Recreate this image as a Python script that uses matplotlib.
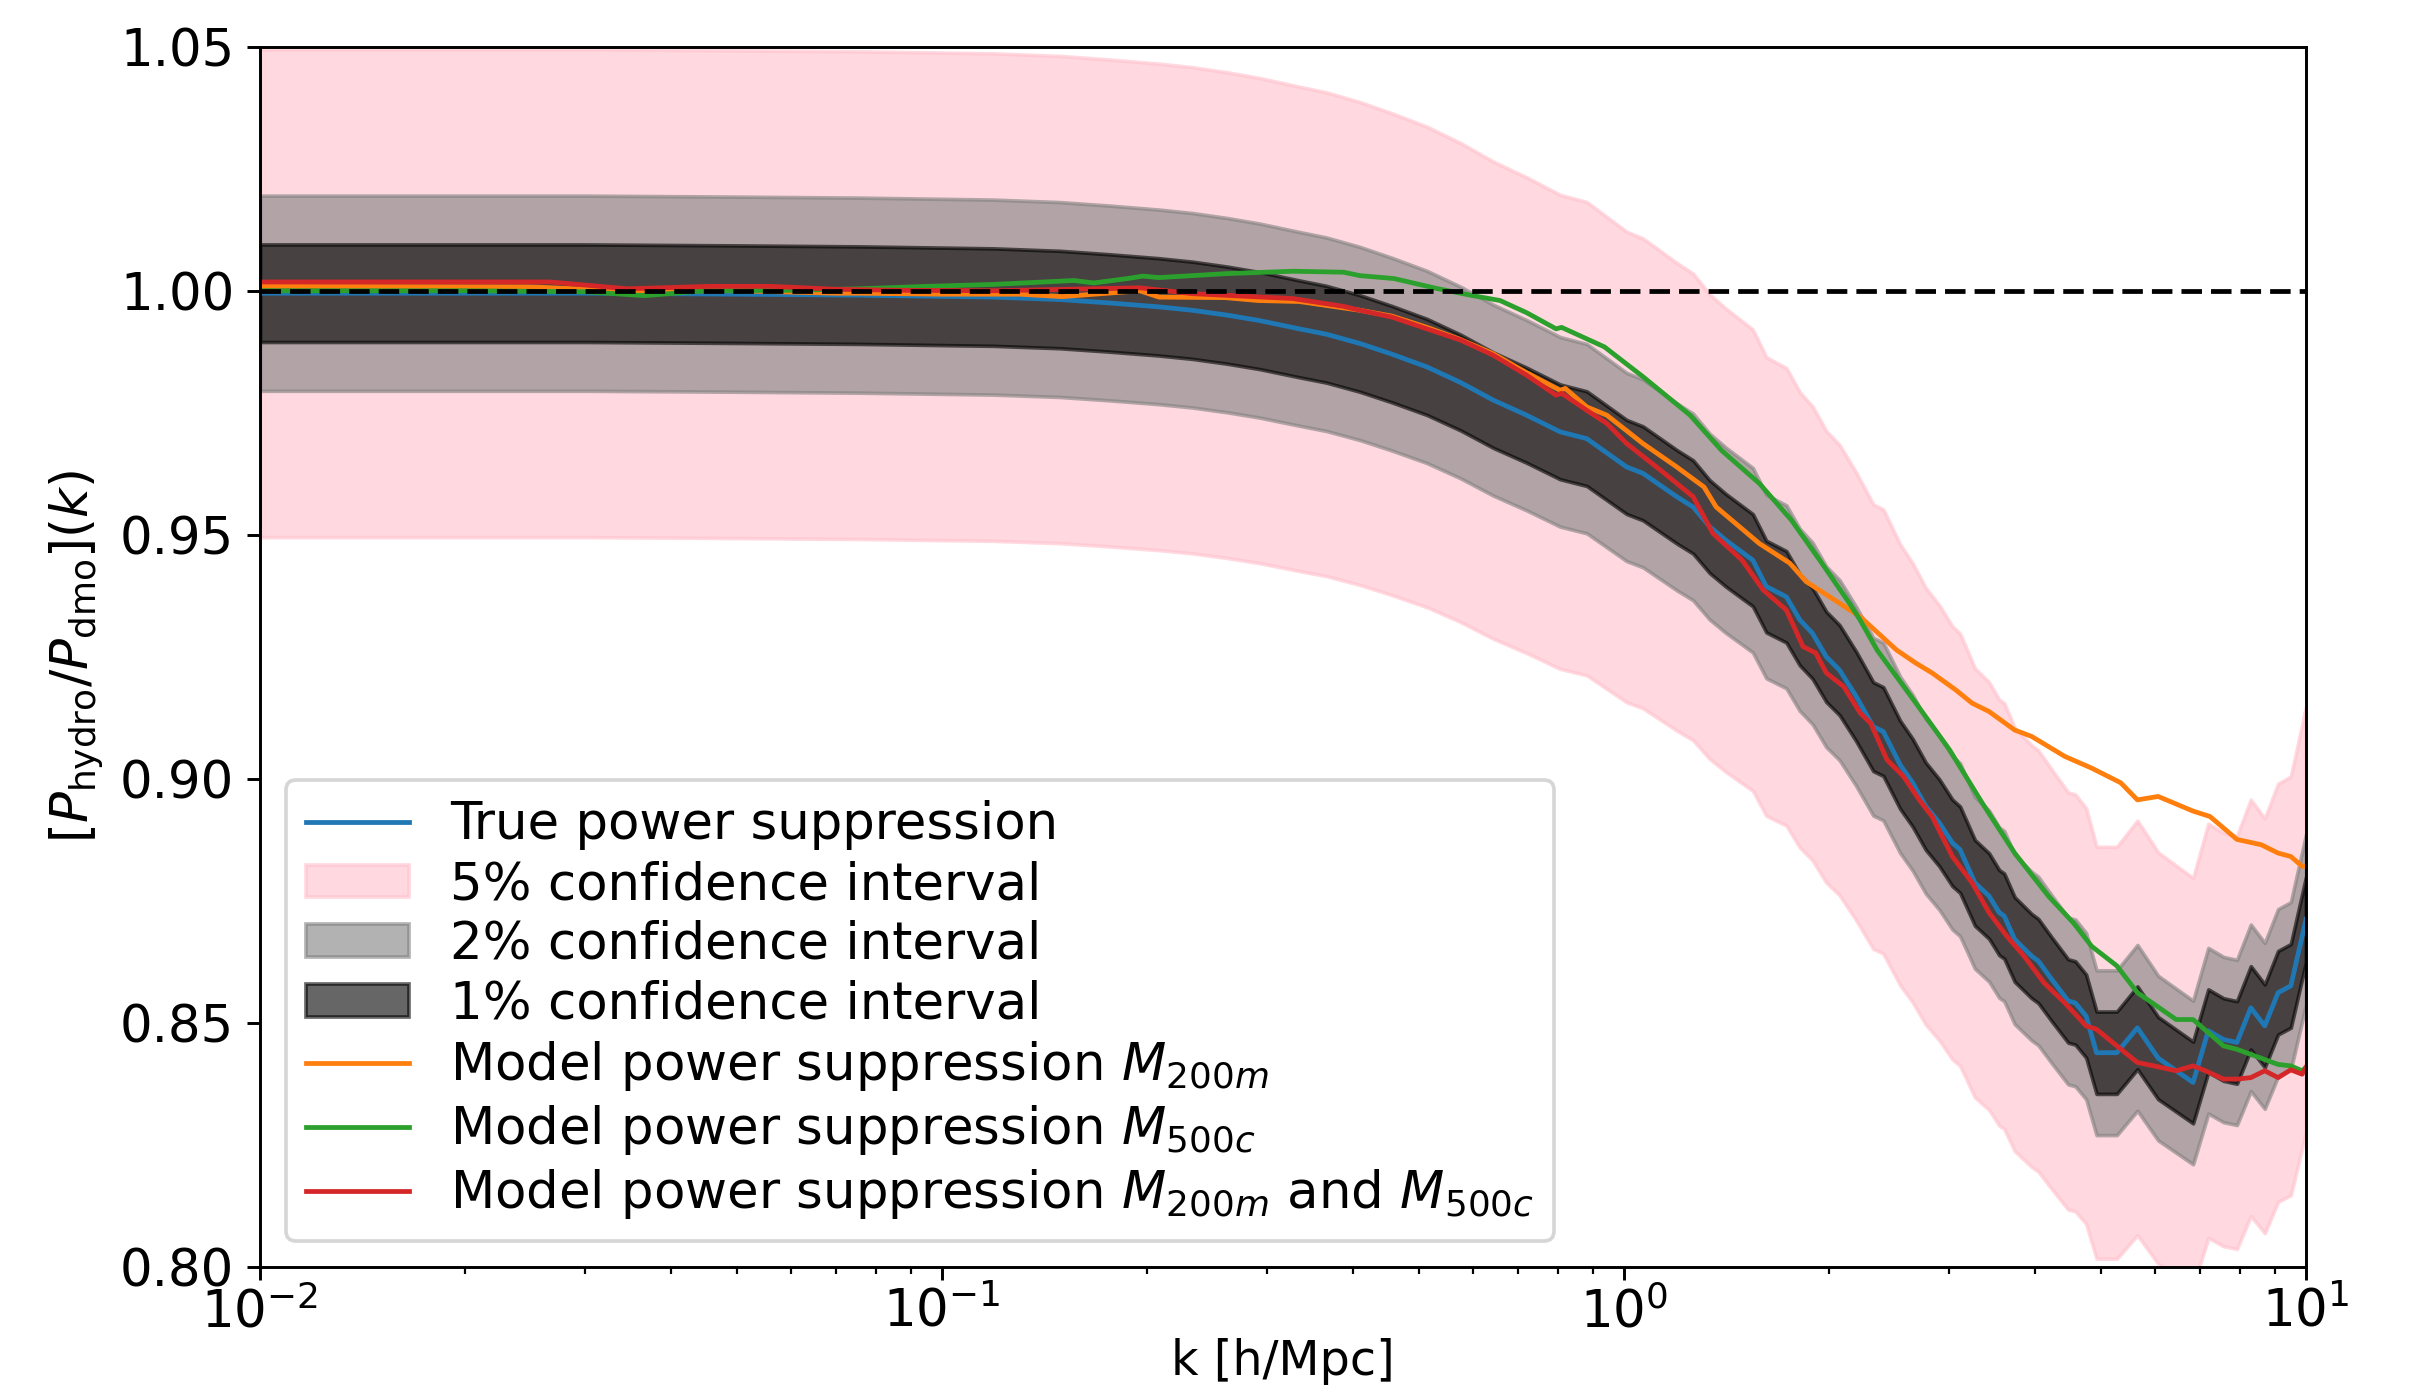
import numpy as np
import matplotlib
matplotlib.use("Agg")
import matplotlib.pyplot as plt

# ---------------- data ----------------
k_true = [0.01, 0.03, 0.05, 0.0758, 0.095, 0.119, 0.149, 0.176, 0.208, 0.233, 0.262,
          0.292, 0.334, 0.366, 0.41, 0.457, 0.514, 0.576, 0.643, 0.72, 0.806, 0.882,
          1.009, 1.066, 1.195, 1.263, 1.335, 1.41, 1.545, 1.617, 1.73, 1.81, 1.89,
          1.98, 2.07, 2.19, 2.32, 2.40, 2.54, 2.65, 2.77, 2.90, 3.03, 3.11, 3.27,
          3.43, 3.55, 3.61, 3.74, 3.96, 4.05, 4.24, 4.48, 4.59, 4.76, 4.93, 5.28,
          5.66, 6.07, 6.83, 7.19, 7.57, 7.92, 8.30, 8.70, 9.10, 9.50, 10.0]
true_supp = [0.9995, 0.9995, 0.9993, 0.9991, 0.9989, 0.9987, 0.9982, 0.9975, 0.9967,
             0.9960, 0.9950, 0.9939, 0.9922, 0.9911, 0.9892, 0.9870, 0.9844, 0.9812,
             0.9776, 0.9745, 0.9711, 0.9697, 0.9639, 0.9626, 0.9578, 0.9557, 0.9517,
             0.9489, 0.9448, 0.9394, 0.9373, 0.9326, 0.9298, 0.9250, 0.9223, 0.9169,
             0.9107, 0.9097, 0.9029, 0.8992, 0.8944, 0.8910, 0.8869, 0.8855, 0.8787,
             0.8760, 0.8726, 0.8719, 0.8671, 0.8637, 0.8627, 0.8589, 0.8545, 0.8541,
             0.8514, 0.8439, 0.8439, 0.8490, 0.8428, 0.8378, 0.8484, 0.8466, 0.8460,
             0.8531, 0.8494, 0.8562, 0.8576, 0.8712]

conf_levels = [0.05, 0.02, 0.01]
conf_labels = ["5% confidence interval", "2% confidence interval", "1% confidence interval"]
conf_colors = ["pink", "gray", "black"]

k_m200 = [0.01, 0.025, 0.03, 0.035, 0.05, 0.07, 0.0758, 0.1, 0.13, 0.15, 0.195, 0.208,
          0.26, 0.291, 0.334, 0.366, 0.41, 0.457, 0.514, 0.576, 0.643, 0.72, 0.806,
          0.82, 0.882, 0.944, 1.066, 1.195, 1.31, 1.365, 1.58, 1.75, 1.85, 2.07, 2.22,
          2.51, 2.68, 2.83, 3.06, 3.24, 3.43, 3.74, 3.96, 4.43, 4.85, 5.35, 5.66, 6.07,
          6.83, 7.23, 7.92, 8.6, 9.1, 9.5, 9.87, 10.0]
m200_supp = [1.0009, 1.0008, 1.0003, 1.0000, 1.0000, 0.9995, 0.9995, 0.9993, 0.9993,
             0.9988, 1.0000, 0.9987, 0.9986, 0.9980, 0.9978, 0.9970, 0.9960, 0.9948,
             0.9925, 0.9900, 0.9871, 0.9832, 0.9796, 0.9800, 0.9762, 0.9745, 0.9687,
             0.9639, 0.9598, 0.9557, 0.9482, 0.9442, 0.9404, 0.9360, 0.9332, 0.9264,
             0.9237, 0.9217, 0.9183, 0.9155, 0.9138, 0.9100, 0.9087, 0.9046, 0.9022,
             0.8992, 0.8957, 0.8964, 0.8934, 0.8923, 0.8876, 0.8865, 0.8848, 0.8841,
             0.8821, 0.8821]

k_m500 = [0.01, 0.02, 0.03, 0.0366, 0.045, 0.06, 0.0758, 0.0949, 0.119, 0.156, 0.167,
          0.187, 0.197, 0.208, 0.233, 0.26, 0.327, 0.388, 0.41, 0.46, 0.53, 0.6, 0.658,
          0.72, 0.795, 0.81, 0.936, 1.066, 1.25, 1.39, 1.58, 1.76, 1.95, 2.14, 2.22,
          2.35, 2.68, 3.0, 3.35, 3.74, 4.19, 4.56, 4.85, 5.28, 5.66, 6.45, 6.83, 7.57,
          7.92, 9.1, 9.5, 9.87, 10.0]
m500_supp = [1.0000, 1.0000, 0.9998, 0.9990, 1.0000, 1.0001, 1.0004, 1.0009, 1.0013,
             1.0021, 1.0016, 1.0025, 1.0030, 1.0027, 1.0031, 1.0035, 1.0040, 1.0038,
             1.0031, 1.0025, 1.0005, 0.9990, 0.9980, 0.9955, 0.9922, 0.9925, 0.9885,
             0.9824, 0.9745, 0.9673, 0.9605, 0.9530, 0.9442, 0.9360, 0.9325, 0.9264,
             0.9155, 0.9060, 0.8951, 0.8848, 0.8760, 0.8705, 0.8657, 0.8617, 0.8562,
             0.8507, 0.8507, 0.8453, 0.8446, 0.8415, 0.8412, 0.8402, 0.8409]

k_both = [0.01, 0.0266, 0.0346, 0.0456, 0.056, 0.07, 0.0865, 0.12, 0.195, 0.233, 0.327,
          0.388, 0.41, 0.457, 0.514, 0.576, 0.643, 0.72, 0.795, 0.81, 0.882, 0.944,
          1.009, 1.13, 1.263, 1.35, 1.49, 1.6, 1.73, 1.83, 1.91, 1.98, 2.1, 2.22, 2.3,
          2.43, 2.57, 2.71, 2.83, 3.03, 3.24, 3.43, 3.64, 3.86, 4.13, 4.43, 4.76, 4.93,
          5.28, 5.66, 5.98, 6.45, 6.83, 7.12, 7.57, 7.92, 8.3, 8.7, 9.1, 9.5, 9.87, 10.0]
both_supp = [1.0018, 1.0018, 1.0004, 1.0009, 1.0009, 1.0003, 1.0001, 1.0000, 1.0006,
             0.9994, 0.9984, 0.9968, 0.9960, 0.9946, 0.9922, 0.9899, 0.9868, 0.9827,
             0.9786, 0.9790, 0.9755, 0.9728, 0.9687, 0.9633, 0.9578, 0.9503, 0.9448,
             0.9387, 0.9346, 0.9271, 0.9258, 0.9217, 0.9189, 0.9135, 0.9114, 0.9039,
             0.9005, 0.8957, 0.8923, 0.8841, 0.8787, 0.8726, 0.8678, 0.8637, 0.8582,
             0.8541, 0.8494, 0.8487, 0.8453, 0.8419, 0.8412, 0.8402, 0.8412, 0.8402,
             0.8385, 0.8385, 0.8388, 0.8402, 0.8388, 0.8404, 0.8395, 0.8409]

y_ticks = [0.80, 0.85, 0.90, 0.95, 1.00, 1.05]

# ---------------- plot ----------------
plt.rcParams["font.size"] = 14
DPI = 264
LW = 1.3
fig = plt.figure(figsize=(2410 / DPI, 1394 / DPI), dpi=DPI)
ax = fig.add_axes([260 / 2410, 1 - 1267 / 1394, (2306 - 260) / 2410, (1267 - 46.7) / 1394])

kt = np.array(k_true)
tv = np.array(true_supp)

ax.plot(kt, tv, color="C0", lw=LW, label="True power suppression")
for lvl, lab, col in zip(conf_levels, conf_labels, conf_colors):
    ax.fill_between(kt, tv * (1 - lvl), tv * (1 + lvl), color=col, alpha=0.6, label=lab)
ax.plot(k_m200, m200_supp, color="C1", lw=LW, label=r"Model power suppression $M_{200m}$")
ax.plot(k_m500, m500_supp, color="C2", lw=LW, label=r"Model power suppression $M_{500c}$")
ax.plot(k_both, both_supp, color="C3", lw=LW,
        label=r"Model power suppression $M_{200m}$ and $M_{500c}$")
ax.axhline(1.0, color="k", ls="--", lw=LW, dashes=(4.3, 1.9))

ax.set_xscale("log")
ax.set_xlim(1e-2, 10)
ax.set_ylim(0.80, 1.05)
ax.set_yticks(y_ticks)
ax.tick_params(axis="x", pad=2)
ax.set_xlabel("k [h/Mpc]", fontsize=13, labelpad=0)
ax.set_ylabel(r"$[P_{\mathrm{hydro}}/P_{\mathrm{dmo}}](k)$")
ax.legend(loc="lower left", labelspacing=0.19, handleheight=0.6)

fig.savefig("out.png", dpi=DPI)
